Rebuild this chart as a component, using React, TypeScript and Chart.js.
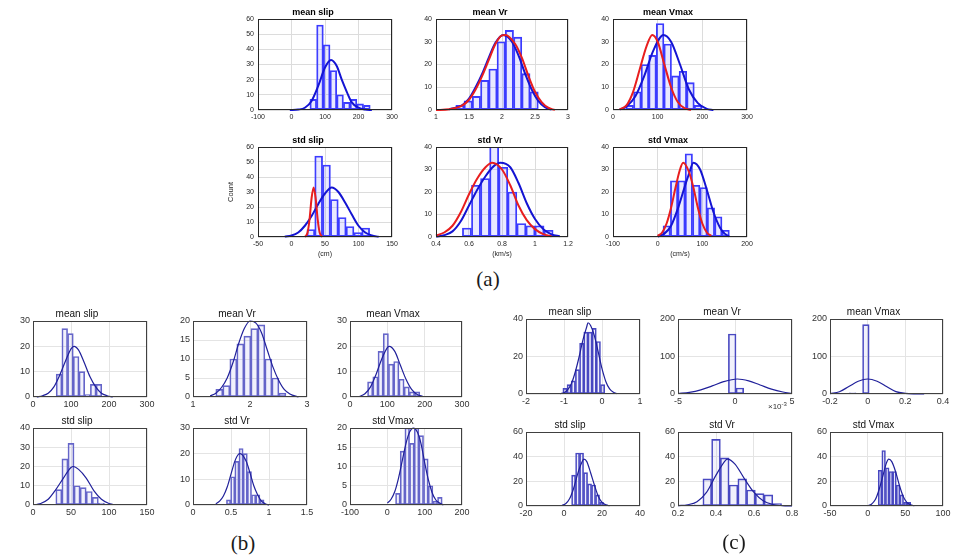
import React, { useEffect, useRef } from "react";
import { Chart, registerables } from "chart.js";

Chart.register(...registerables);

// ================= data: panel (a) =================
const aMeanSlipXTicks = [-100, 0, 100, 200, 300];
const aMeanSlipYTicks = [0, 10, 20, 30, 40, 50, 60];
const aMeanSlipBins = [65, 85, 105, 125, 145, 165, 185, 205, 225];
const aMeanSlipCounts = [7, 56, 43, 26, 10, 5, 7, 4, 3];
const aMeanSlipBlueX = [-5, 20, 40, 60, 80, 100, 118, 135, 150, 165, 180, 200, 220, 240];
const aMeanSlipBlueY = [0, 0.3, 1.5, 6, 16, 28, 33, 29, 20, 12, 5, 1.5, 0.3, 0];

const aMeanVrXTicks = [1, 1.5, 2, 2.5, 3];
const aMeanVrYTicks = [0, 10, 20, 30, 40];
const aMeanVrBins = [1.3625, 1.4875, 1.6125, 1.7375, 1.8625, 1.9875, 2.1125, 2.2375, 2.3625, 2.4875];
const aMeanVrCounts = [2, 4, 6, 13, 18, 30, 35, 32, 16, 8];
const aMeanVrRedX = [1.0, 1.2, 1.4, 1.5, 1.6, 1.7, 1.8, 1.9, 2.0, 2.05, 2.2, 2.3, 2.4, 2.5, 2.6, 2.7, 2.8];
const aMeanVrRedY = [0, 0.3, 2, 4.5, 9, 15, 22, 29, 32.8, 33, 29, 23, 15, 8, 3.5, 1, 0];
const aMeanVrBlueX = [1.2, 1.4, 1.5, 1.6, 1.7, 1.8, 1.9, 2.02, 2.15, 2.25, 2.35, 2.45, 2.55, 2.65, 2.75];
const aMeanVrBlueY = [0.3, 2.2, 5, 10, 16, 23, 29.5, 33, 30, 24, 16, 9, 4, 1.2, 0.2];

const aMeanVmaxXTicks = [0, 100, 200, 300];
const aMeanVmaxYTicks = [0, 10, 20, 30, 40];
const aMeanVmaxBins = [37.5, 54.5, 71.5, 88.5, 105.5, 122.5, 139.5, 156.5, 173.5, 190.5];
const aMeanVmaxCounts = [2, 8, 20, 24, 38, 29, 15, 17, 12, 2];
const aMeanVmaxRedX = [15, 30, 45, 60, 75, 88, 100, 115, 130, 145, 160, 175];
const aMeanVmaxRedY = [0.3, 2, 8, 18, 28, 33, 30, 20, 10, 3.5, 0.8, 0.1];
const aMeanVmaxBlueX = [15, 30, 50, 70, 90, 113, 130, 150, 170, 190, 210, 225];
const aMeanVmaxBlueY = [0.3, 1.5, 6, 15, 26, 33, 30, 20, 9, 3, 0.5, 0];

const aStdSlipXTicks = [-50, 0, 50, 100, 150];
const aStdSlipYTicks = [0, 10, 20, 30, 40, 50, 60];
const aStdSlipBins = [28.85, 40.55, 52.25, 63.95, 75.65, 87.35, 99.05, 110.75];
const aStdSlipCounts = [5, 54, 48, 25, 13, 7, 3, 6];
const aStdSlipRedX = [20, 24, 27, 30, 33, 36, 39, 42, 46];
const aStdSlipRedY = [0, 3, 12, 26, 33, 26, 12, 3, 0];
const aStdSlipBlueX = [-10, 0, 10, 20, 30, 40, 50, 60, 70, 80, 90, 100, 110, 120, 130];
const aStdSlipBlueY = [0.3, 1, 3, 7.5, 14, 22, 29, 33, 30, 23, 15, 7.5, 3, 1, 0.2];

const aStdVrXTicks = [0.4, 0.6, 0.8, 1, 1.2];
const aStdVrYTicks = [0, 10, 20, 30, 40];
const aStdVrBins = [0.5875, 0.6425, 0.6975, 0.7525, 0.8075, 0.8625, 0.9175, 0.9725, 1.0275, 1.0825];
const aStdVrCounts = [4, 23, 26, 43, 31, 20, 6, 5, 5, 3];
const aStdVrRedX = [0.4, 0.45, 0.5, 0.55, 0.6, 0.65, 0.7, 0.74, 0.8, 0.85, 0.9, 0.95, 1.0, 1.05, 1.1];
const aStdVrRedY = [0.7, 2, 5, 11, 19, 26, 31, 33, 30, 23, 14, 7.5, 3.5, 1.3, 0.3];
const aStdVrBlueX = [0.4, 0.45, 0.5, 0.55, 0.6, 0.65, 0.7, 0.75, 0.79, 0.85, 0.9, 0.95, 1.0, 1.05, 1.1, 1.15];
const aStdVrBlueY = [0.2, 0.8, 2.5, 7, 14, 21, 27, 31.5, 33, 31, 24, 15, 8, 3.5, 1.2, 0.3];

const aStdVmaxXTicks = [-100, 0, 100, 200];
const aStdVmaxYTicks = [0, 10, 20, 30, 40];
const aStdVmaxBins = [20.25, 36.75, 53.25, 69.75, 86.25, 102.75, 119.25, 135.75, 152.25];
const aStdVmaxCounts = [5, 25, 25, 37, 23, 22, 13, 9, 3];
const aStdVmaxRedX = [0, 10, 20, 30, 40, 50, 57, 70, 80, 90, 100, 110, 120];
const aStdVmaxRedY = [0.5, 2, 6, 13, 22, 30, 33, 29, 22, 13, 6, 2, 0.5];
const aStdVmaxBlueX = [0, 15, 30, 45, 60, 70, 80, 95, 110, 125, 140, 150, 160];
const aStdVmaxBlueY = [0.2, 1.5, 5, 12.5, 22, 28, 33, 30, 21, 11, 4, 1.5, 0.3];

// ================= data: panel (b) =================
const bMeanSlipXTicks = [0, 100, 200, 300];
const bMeanSlipYTicks = [0, 10, 20, 30];
const bMeanSlipBins = [68.5, 83.5, 98.5, 113.5, 128.5, 143.5, 158.5, 173.5];
const bMeanSlipCounts = [9, 27, 25, 16, 10, 1, 5, 5];
const bMeanSlipFitX = [10, 25, 40, 55, 70, 85, 100, 108, 120, 135, 150, 165, 180, 195, 210];
const bMeanSlipFitY = [0, 0.5, 1.5, 4, 8.5, 14, 19, 20, 18.5, 13.5, 8, 4, 1.5, 0.5, 0];

const bMeanVrXTicks = [1, 2, 3];
const bMeanVrYTicks = [0, 5, 10, 15, 20];
const bMeanVrBins = [1.4615, 1.5845, 1.7075, 1.8305, 1.9535, 2.0765, 2.1995, 2.3225, 2.4455, 2.5685];
const bMeanVrCounts = [2, 3, 10, 14, 16, 18, 19, 10, 5, 1];
const bMeanVrFitX = [1.3, 1.4, 1.5, 1.6, 1.7, 1.8, 1.9, 2.0, 2.1, 2.2, 2.3, 2.4, 2.5, 2.6, 2.7, 2.85];
const bMeanVrFitY = [0.3, 1, 2.5, 5, 9, 14, 18, 20, 19.5, 17, 12.5, 8, 4.5, 2, 0.8, 0];

const bMeanVmaxXTicks = [0, 100, 200, 300];
const bMeanVmaxYTicks = [0, 10, 20, 30];
const bMeanVmaxBins = [54, 68, 82, 96, 110, 124, 138, 152, 166, 180];
const bMeanVmaxCounts = [6, 8, 18, 25, 13, 14, 7, 4, 2, 2];
const bMeanVmaxFitX = [25, 40, 55, 70, 85, 100, 105, 120, 135, 150, 165, 180, 195];
const bMeanVmaxFitY = [0.2, 1.3, 4, 9, 15, 19.5, 20, 18, 12.5, 7, 3, 1, 0.2];

const bStdSlipXTicks = [0, 50, 100, 150];
const bStdSlipYTicks = [0, 10, 20, 30, 40];
const bStdSlipBins = [34, 42, 50, 58, 66, 74, 82, 90];
const bStdSlipCounts = [8, 24, 32, 10, 9, 7, 4, 1];
const bStdSlipFitX = [5, 10, 20, 30, 40, 50, 53, 60, 70, 80, 90, 100, 105];
const bStdSlipFitY = [0.3, 0.8, 3, 8, 14, 19.5, 20, 18.5, 14, 7.5, 3, 0.8, 0.3];

const bStdVrXTicks = [0, 0.5, 1, 1.5];
const bStdVrYTicks = [0, 10, 20, 30];
const bStdVrBins = [0.4675, 0.5225, 0.5775, 0.6325, 0.6875, 0.7425, 0.7975, 0.8525, 0.9075];
const bStdVrCounts = [2, 11, 17, 22, 20, 13, 4, 4, 2];
const bStdVrFitX = [0.3, 0.35, 0.4, 0.45, 0.5, 0.55, 0.6, 0.62, 0.7, 0.75, 0.8, 0.85, 0.9, 0.95, 1.0];
const bStdVrFitY = [0.5, 1.5, 3.5, 7, 12, 17, 19.8, 20, 17, 12.5, 7.5, 4, 1.5, 0.5, 0];

const bStdVmaxXTicks = [-100, 0, 100, 200];
const bStdVmaxYTicks = [0, 5, 10, 15, 20];
const bStdVmaxBins = [28.25, 40.75, 53.25, 65.75, 78.25, 90.75, 103.25, 115.75, 128.25, 140.75];
const bStdVmaxCounts = [3, 14, 20, 16, 20, 18, 12, 5, 1, 2];
const bStdVmaxFitX = [0, 10, 20, 30, 40, 50, 60, 70, 80, 90, 100, 110, 120, 130, 140, 150];
const bStdVmaxFitY = [0.5, 1.5, 3.5, 7, 11.5, 16, 19, 20, 19, 16, 11, 6.5, 3.2, 1.3, 0.5, 0];

// ================= data: panel (c) =================
const cMeanSlipXTicks = [-2, -1, 0, 1];
const cMeanSlipYTicks = [0, 20, 40];
const cMeanSlipBins = [-0.975, -0.865, -0.755, -0.645, -0.535, -0.425, -0.315, -0.205, -0.095, 0.015];
const cMeanSlipCounts = [3, 5, 7, 13, 27, 33, 33, 35, 28, 5];
const cMeanSlipFitX = [-1.1, -1.0, -0.9, -0.8, -0.7, -0.6, -0.5, -0.4, -0.37, -0.3, -0.2, -0.1, 0, 0.1, 0.2, 0.3, 0.4];
const cMeanSlipFitY = [0.2, 0.7, 2.3, 5.8, 12, 20, 29, 36, 38, 36.5, 31, 22.5, 13.5, 6.7, 2.7, 0.9, 0.2];

// mean Vr (c) is plotted in units of 1e-3
const cMeanVrXTicks = [-5, 0, 5];
const cMeanVrYTicks = [0, 100, 200];
const cMeanVrBins = [-0.915, -0.245, 0.425, 1.095];
const cMeanVrCounts = [1, 160, 16, 1];
const cMeanVrFitX = [-5, -4, -3, -2, -1, 0.2, 1.2, 2.2, 3.2, 4.2, 5];
const cMeanVrFitY = [1.4, 4.4, 11, 21.5, 33, 40, 35, 24, 13, 5.4, 1.5];

const cMeanVmaxXTicks = [-0.2, 0, 0.2, 0.4];
const cMeanVmaxYTicks = [0, 100, 200];
const cMeanVmaxBins = [-0.0795, -0.0445, -0.0095];
const cMeanVmaxCounts = [3, 0, 185];
const cMeanVmaxFitX = [-0.2, -0.15, -0.1, -0.05, 0, 0.05, 0.1, 0.15, 0.2, 0.25, 0.3];
const cMeanVmaxFitY = [1, 6, 20, 34, 40, 34, 20, 6.5, 1.8, 0.3, 0];

const cStdSlipXTicks = [-20, 0, 20, 40];
const cStdSlipYTicks = [0, 20, 40, 60];
const cStdSlipBins = [5.05, 7.15, 9.25, 11.35, 13.45, 15.55, 17.65, 19.75, 21.85];
const cStdSlipCounts = [25, 43, 43, 27, 18, 17, 9, 3, 1];
const cStdSlipFitX = [-1, 1, 3, 5, 7, 9, 10.5, 12, 14, 16, 18, 20, 22, 24];
const cStdSlipFitY = [0.5, 2, 6, 14, 25, 34, 38, 36, 27, 17, 8, 3, 1, 0.2];

const cStdVrXTicks = [0.2, 0.4, 0.6, 0.8];
const cStdVrYTicks = [0, 20, 40, 60];
const cStdVrBins = [0.308, 0.354, 0.4, 0.446, 0.492, 0.538, 0.584, 0.63, 0.676, 0.722];
const cStdVrCounts = [1, 22, 54, 39, 17, 22, 13, 10, 9, 2];
const cStdVrFitX = [0.2, 0.25, 0.3, 0.35, 0.4, 0.45, 0.46, 0.5, 0.55, 0.6, 0.65, 0.7, 0.75, 0.8];
const cStdVrFitY = [0.3, 1, 3.5, 11, 25, 37, 38, 34, 22, 11, 4, 1.2, 0.3, 0];

const cStdVmaxXTicks = [-50, 0, 50, 100];
const cStdVmaxYTicks = [0, 20, 40, 60];
const cStdVmaxBins = [16.4, 21.2, 26, 30.8, 35.6, 40.4, 45.2, 50, 54.8];
const cStdVmaxCounts = [29, 45, 31, 28, 28, 17, 9, 3, 3];
const cStdVmaxFitX = [0, 5, 10, 15, 20, 25, 28, 32, 37, 42, 47, 52, 57, 62];
const cStdVmaxFitY = [0.3, 1.5, 5, 13, 24, 35, 38, 36, 28, 17, 8, 3, 1, 0.2];

// ================= styles =================
const SANS = "'Liberation Sans', Arial, Helvetica, sans-serif";

const STYLE_A = {
  tickSize: 7, tickColor: "#262626", titleSize: 9, titleWeight: "bold", titleColor: "#000",
  titlePadTop: 2, titlePadBottom: 1.2, yAxisW: 24, yTickPad: 4, xAxisH: 11, xAxisHTitle: 22, xTickPad: 3,
  padL: 4, padR: 14, padB: 2, grid: "#dcdcdc", frame: "#262626",
  barEdge: "#3a3aff", barEdgeW: 1.2, barFill: "rgba(120,120,255,0.16)", curveW: 2,
};
const STYLE_B = {
  tickSize: 9, tickColor: "#333333", titleSize: 10, titleWeight: "normal", titleColor: "#111",
  titlePadTop: 2, titlePadBottom: 1, yAxisW: 26, yTickPad: 3, xAxisH: 14, xAxisHTitle: 24, xTickPad: 2,
  padL: 4, padR: 14, padB: 2, grid: "#e4e4e4", frame: "#404040",
  barEdge: "#6464c8", barEdgeW: 1, barFill: "rgba(140,140,230,0.12)", curveW: 1.2,
};
const STYLE_C = { ...STYLE_B, barEdge: "#4646c0" };

const BLUE_A = "#1414d2";
const RED_A = "#e81e1e";
const NAVY = "#20209a";

type Curve = { x: number[]; y: number[]; color: string };
type Spec = {
  title: string; style: any; left: number; top: number; width: number; height: number;
  xTicks: number[]; yTicks: number[]; bins: number[]; counts: number[]; curves: Curve[];
  xTitle?: string; yTitle?: string; yAxisW?: number;
};

const A_COLS = [{ l: 258, w: 134 }, { l: 436, w: 132 }, { l: 613, w: 134 }];
const A_ROWS = [{ t: 19, h: 91 }, { t: 147, h: 90 }];
const B_COLS = [{ l: 33, w: 114 }, { l: 193, w: 114 }, { l: 350, w: 112 }];
const B_ROWS = [{ t: 321, h: 76 }, { t: 428, h: 77 }];
const C_COLS = [{ l: 526, w: 114 }, { l: 678, w: 114 }, { l: 830, w: 113 }];
const C_ROWS = [{ t: 319, h: 75 }, { t: 432, h: 74 }];

function pos(cols: any[], rows: any[], r: number, c: number) {
  return { left: cols[c].l, width: cols[c].w, top: rows[r].t, height: rows[r].h };
}

const SPECS: Spec[] = [
  // (a)
  { title: "mean slip", style: STYLE_A, ...pos(A_COLS, A_ROWS, 0, 0), xTicks: aMeanSlipXTicks, yTicks: aMeanSlipYTicks,
    bins: aMeanSlipBins, counts: aMeanSlipCounts, curves: [{ x: aMeanSlipBlueX, y: aMeanSlipBlueY, color: BLUE_A }] },
  { title: "mean Vr", style: STYLE_A, ...pos(A_COLS, A_ROWS, 0, 1), xTicks: aMeanVrXTicks, yTicks: aMeanVrYTicks,
    bins: aMeanVrBins, counts: aMeanVrCounts,
    curves: [{ x: aMeanVrBlueX, y: aMeanVrBlueY, color: BLUE_A }, { x: aMeanVrRedX, y: aMeanVrRedY, color: RED_A }] },
  { title: "mean Vmax", style: STYLE_A, ...pos(A_COLS, A_ROWS, 0, 2), xTicks: aMeanVmaxXTicks, yTicks: aMeanVmaxYTicks,
    bins: aMeanVmaxBins, counts: aMeanVmaxCounts,
    curves: [{ x: aMeanVmaxBlueX, y: aMeanVmaxBlueY, color: BLUE_A }, { x: aMeanVmaxRedX, y: aMeanVmaxRedY, color: RED_A }] },
  { title: "std slip", style: STYLE_A, ...pos(A_COLS, A_ROWS, 1, 0), xTicks: aStdSlipXTicks, yTicks: aStdSlipYTicks,
    bins: aStdSlipBins, counts: aStdSlipCounts, xTitle: "(cm)", yTitle: "Count", yAxisW: 34,
    curves: [{ x: aStdSlipBlueX, y: aStdSlipBlueY, color: BLUE_A }, { x: aStdSlipRedX, y: aStdSlipRedY, color: RED_A }] },
  { title: "std Vr", style: STYLE_A, ...pos(A_COLS, A_ROWS, 1, 1), xTicks: aStdVrXTicks, yTicks: aStdVrYTicks,
    bins: aStdVrBins, counts: aStdVrCounts, xTitle: "(km/s)",
    curves: [{ x: aStdVrBlueX, y: aStdVrBlueY, color: BLUE_A }, { x: aStdVrRedX, y: aStdVrRedY, color: RED_A }] },
  { title: "std Vmax", style: STYLE_A, ...pos(A_COLS, A_ROWS, 1, 2), xTicks: aStdVmaxXTicks, yTicks: aStdVmaxYTicks,
    bins: aStdVmaxBins, counts: aStdVmaxCounts, xTitle: "(cm/s)",
    curves: [{ x: aStdVmaxBlueX, y: aStdVmaxBlueY, color: BLUE_A }, { x: aStdVmaxRedX, y: aStdVmaxRedY, color: RED_A }] },
  // (b)
  { title: "mean slip", style: STYLE_B, ...pos(B_COLS, B_ROWS, 0, 0), xTicks: bMeanSlipXTicks, yTicks: bMeanSlipYTicks,
    bins: bMeanSlipBins, counts: bMeanSlipCounts, curves: [{ x: bMeanSlipFitX, y: bMeanSlipFitY, color: NAVY }] },
  { title: "mean Vr", style: STYLE_B, ...pos(B_COLS, B_ROWS, 0, 1), xTicks: bMeanVrXTicks, yTicks: bMeanVrYTicks,
    bins: bMeanVrBins, counts: bMeanVrCounts, curves: [{ x: bMeanVrFitX, y: bMeanVrFitY, color: NAVY }] },
  { title: "mean Vmax", style: STYLE_B, ...pos(B_COLS, B_ROWS, 0, 2), xTicks: bMeanVmaxXTicks, yTicks: bMeanVmaxYTicks,
    bins: bMeanVmaxBins, counts: bMeanVmaxCounts, curves: [{ x: bMeanVmaxFitX, y: bMeanVmaxFitY, color: NAVY }] },
  { title: "std slip", style: STYLE_B, ...pos(B_COLS, B_ROWS, 1, 0), xTicks: bStdSlipXTicks, yTicks: bStdSlipYTicks,
    bins: bStdSlipBins, counts: bStdSlipCounts, curves: [{ x: bStdSlipFitX, y: bStdSlipFitY, color: NAVY }] },
  { title: "std Vr", style: STYLE_B, ...pos(B_COLS, B_ROWS, 1, 1), xTicks: bStdVrXTicks, yTicks: bStdVrYTicks,
    bins: bStdVrBins, counts: bStdVrCounts, curves: [{ x: bStdVrFitX, y: bStdVrFitY, color: NAVY }] },
  { title: "std Vmax", style: STYLE_B, ...pos(B_COLS, B_ROWS, 1, 2), xTicks: bStdVmaxXTicks, yTicks: bStdVmaxYTicks,
    bins: bStdVmaxBins, counts: bStdVmaxCounts, curves: [{ x: bStdVmaxFitX, y: bStdVmaxFitY, color: NAVY }] },
  // (c)
  { title: "mean slip", style: STYLE_C, ...pos(C_COLS, C_ROWS, 0, 0), xTicks: cMeanSlipXTicks, yTicks: cMeanSlipYTicks,
    bins: cMeanSlipBins, counts: cMeanSlipCounts, curves: [{ x: cMeanSlipFitX, y: cMeanSlipFitY, color: NAVY }] },
  { title: "mean Vr", style: STYLE_C, ...pos(C_COLS, C_ROWS, 0, 1), xTicks: cMeanVrXTicks, yTicks: cMeanVrYTicks,
    bins: cMeanVrBins, counts: cMeanVrCounts, curves: [{ x: cMeanVrFitX, y: cMeanVrFitY, color: NAVY }] },
  { title: "mean Vmax", style: STYLE_C, ...pos(C_COLS, C_ROWS, 0, 2), xTicks: cMeanVmaxXTicks, yTicks: cMeanVmaxYTicks,
    bins: cMeanVmaxBins, counts: cMeanVmaxCounts, curves: [{ x: cMeanVmaxFitX, y: cMeanVmaxFitY, color: NAVY }] },
  { title: "std slip", style: STYLE_C, ...pos(C_COLS, C_ROWS, 1, 0), xTicks: cStdSlipXTicks, yTicks: cStdSlipYTicks,
    bins: cStdSlipBins, counts: cStdSlipCounts, curves: [{ x: cStdSlipFitX, y: cStdSlipFitY, color: NAVY }] },
  { title: "std Vr", style: STYLE_C, ...pos(C_COLS, C_ROWS, 1, 1), xTicks: cStdVrXTicks, yTicks: cStdVrYTicks,
    bins: cStdVrBins, counts: cStdVrCounts, curves: [{ x: cStdVrFitX, y: cStdVrFitY, color: NAVY }] },
  { title: "std Vmax", style: STYLE_C, ...pos(C_COLS, C_ROWS, 1, 2), xTicks: cStdVmaxXTicks, yTicks: cStdVmaxYTicks,
    bins: cStdVmaxBins, counts: cStdVmaxCounts, curves: [{ x: cStdVmaxFitX, y: cStdVmaxFitY, color: NAVY }] },
];

function fmtTick(v: number) {
  return String(parseFloat(Number(v).toFixed(6)));
}

const framePlugin = {
  id: "axesFrame",
  afterDraw(chart: any, _args: any, opts: any) {
    const { ctx, chartArea: a } = chart;
    ctx.save();
    ctx.strokeStyle = opts.color || "#333";
    ctx.lineWidth = 1;
    const l = Math.round(a.left) + 0.5;
    const t = Math.round(a.top) + 0.5;
    const r = Math.round(a.right) - 0.5;
    const b = Math.round(a.bottom) - 0.5;
    ctx.strokeRect(l, t, r - l, b - t);
    ctx.restore();
  },
};

function SubPlot({ spec }: { spec: Spec }) {
  const ref = useRef<HTMLCanvasElement>(null);
  const st = spec.style;
  const yW = spec.yAxisW ?? st.yAxisW;
  const xH = spec.xTitle ? st.xAxisHTitle : st.xAxisH;
  const titleH = st.titlePadTop + st.titleSize * 1.2 + st.titlePadBottom;
  const cLeft = spec.left - st.padL - yW;
  const cTop = spec.top - titleH;
  const cW = st.padL + yW + spec.width + st.padR;
  const cH = Math.ceil(titleH + spec.height + xH + st.padB);

  useEffect(() => {
    if (!ref.current) return;
    const xT = spec.xTicks;
    const yT = spec.yTicks;
    const datasets: any[] = [
      {
        type: "bar",
        data: spec.bins.map((b, i) => ({ x: b, y: spec.counts[i] })),
        backgroundColor: st.barFill,
        borderColor: st.barEdge,
        borderWidth: st.barEdgeW,
        borderSkipped: false,
        barPercentage: 1,
        categoryPercentage: 1,
        order: 5,
        clip: 0,
      },
      ...spec.curves.map((c, i) => ({
        type: "line",
        data: c.x.map((x, j) => ({ x, y: c.y[j] })),
        borderColor: c.color,
        borderWidth: st.curveW,
        pointRadius: 0,
        fill: false,
        tension: 0.4,
        cubicInterpolationMode: "monotone",
        order: 2 - i,
        clip: 1,
      })),
    ];
    const tickFont = { family: SANS, size: st.tickSize };
    const chart = new Chart(ref.current, {
      type: "bar",
      data: { datasets },
      plugins: [framePlugin],
      options: {
        responsive: false,
        animation: false,
        devicePixelRatio: 1,
        events: [],
        layout: { padding: { left: st.padL, right: st.padR, top: 0, bottom: st.padB } },
        plugins: {
          legend: { display: false },
          tooltip: { enabled: false },
          title: {
            display: true,
            text: spec.title,
            color: st.titleColor,
            font: { family: SANS, size: st.titleSize, weight: st.titleWeight, lineHeight: 1.2 },
            padding: { top: st.titlePadTop, bottom: st.titlePadBottom },
          },
          axesFrame: { color: st.frame },
        } as any,
        scales: {
          x: {
            type: "linear",
            min: xT[0],
            max: xT[xT.length - 1],
            offset: false,
            grid: { color: st.grid, drawTicks: false, offset: false, lineWidth: 1 },
            border: { display: false },
            ticks: {
              font: tickFont, color: st.tickColor, padding: st.xTickPad, maxRotation: 0, minRotation: 0,
              autoSkip: false, callback: (v: any) => fmtTick(v),
            },
            title: spec.xTitle
              ? { display: true, text: spec.xTitle, color: st.tickColor, font: { family: SANS, size: st.tickSize }, padding: { top: 0, bottom: 1 } }
              : { display: false },
            afterBuildTicks: (s: any) => { s.ticks = xT.map((v) => ({ value: v })); },
            afterFit: (s: any) => { s.height = xH; },
          },
          y: {
            type: "linear",
            position: "left",
            min: yT[0],
            max: yT[yT.length - 1],
            grid: { color: st.grid, drawTicks: false, lineWidth: 1 },
            border: { display: false },
            ticks: { font: tickFont, color: st.tickColor, padding: st.yTickPad, autoSkip: false, callback: (v: any) => fmtTick(v) },
            title: spec.yTitle
              ? { display: true, text: spec.yTitle, color: st.tickColor, font: { family: SANS, size: st.tickSize + 0.5 }, padding: { top: 2, bottom: 0 } }
              : { display: false },
            afterBuildTicks: (s: any) => { s.ticks = yT.map((v) => ({ value: v })); },
            afterFit: (s: any) => { s.width = yW; },
          },
        },
      } as any,
    });
    return () => chart.destroy();
  }, []);

  return (
    <canvas
      ref={ref}
      width={cW}
      height={cH}
      style={{ position: "absolute", left: cLeft, top: cTop, width: cW, height: cH }}
    />
  );
}

function PanelLabel({ text, x, y }: { text: string; x: number; y: number }) {
  return (
    <div
      style={{
        position: "absolute", left: x, top: y, transform: "translate(-50%, -50%)",
        fontFamily: "'Liberation Serif', 'Times New Roman', serif", fontSize: 21, lineHeight: "21px",
        color: "#1a1a1a", whiteSpace: "nowrap",
      }}
    >
      {text}
    </div>
  );
}

export default function App() {
  return (
    <div style={{ position: "fixed", left: 0, top: 0, width: 961, height: 559, background: "#ffffff", overflow: "hidden" }}>
      {SPECS.map((s, i) => (
        <SubPlot key={i} spec={s} />
      ))}
      <PanelLabel text="(a)" x={488} y={279} />
      <PanelLabel text="(b)" x={243} y={543} />
      <PanelLabel text="(c)" x={734} y={542} />
      <div
        style={{
          position: "absolute", left: 768, top: 401, fontFamily: SANS, fontSize: 8, lineHeight: "10px",
          color: "#333", whiteSpace: "nowrap",
        }}
      >
        ×10<sup style={{ fontSize: 6, verticalAlign: "3px", lineHeight: "6px" }}>-3</sup>
      </div>
    </div>
  );
}
